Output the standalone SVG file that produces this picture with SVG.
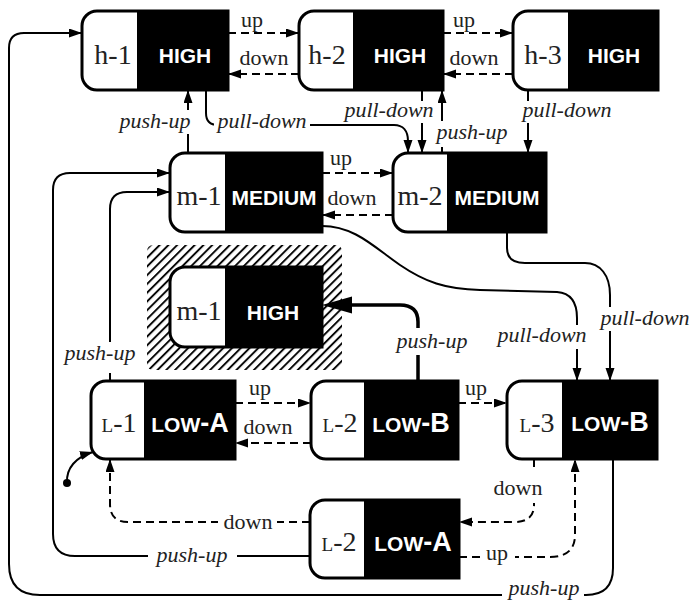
<svg xmlns="http://www.w3.org/2000/svg" width="690" height="601" viewBox="0 0 690 601">
  <defs>
    <style>
      .box { fill: #fff; stroke: #000; stroke-width: 3; }
      .blk { fill: #000; }
      .nm { font-family: "Liberation Serif", "Times New Roman", serif; font-size: 28px; fill: #222; text-anchor: middle; }
      .sc { font-size: 19px; }
      .tag { font-family: "Liberation Sans", Arial, sans-serif; font-weight: bold; font-size: 21px; fill: #fff; text-anchor: middle; }
      .big { font-size: 27px; }
      .c { fill: none; stroke: #000; stroke-width: 2; }
      .d { stroke-dasharray: 8 5; }
      .thick { stroke-width: 3.5; }
      .lb { font-family: "Liberation Serif", "Times New Roman", serif; font-size: 22px; fill: #222; text-anchor: middle; }
      .it { font-style: italic; }
      .bg { fill: #fff; }
    </style>
    <marker id="ah" markerUnits="userSpaceOnUse" markerWidth="14" markerHeight="10" refX="13" refY="4.5" orient="auto">
      <path d="M0,0 L13,4.5 L0,9 Z" fill="#000"/>
    </marker>
    <marker id="ahb" markerUnits="userSpaceOnUse" markerWidth="31" markerHeight="18" refX="20" refY="8.5" orient="auto">
      <path d="M0,0 L30,8.5 L0,17 Z" fill="#000"/>
    </marker>
    <pattern id="hatch" patternUnits="userSpaceOnUse" width="6.2" height="6.2" patternTransform="rotate(45)">
      <line x1="1" y1="0" x2="1" y2="6.2" stroke="#000" stroke-width="1.9"/>
    </pattern>
  </defs>

  <!-- hatched area behind the inactive m-1 node -->
  <rect x="147" y="245" width="195" height="125" rx="6" fill="url(#hatch)"/>

  <!-- connectors -->
  <g id="connectors">
    <!-- top row -->
    <path class="c d" d="M228,33 H299" marker-end="url(#ah)"/>
    <path class="c d" d="M299,74 H228" marker-end="url(#ah)"/>
    <path class="c d" d="M443,33 H513" marker-end="url(#ah)"/>
    <path class="c d" d="M513,74 H443" marker-end="url(#ah)"/>
    <!-- between top and middle rows -->
    <path class="c" d="M188,153 V90" marker-end="url(#ah)"/>
    <path class="c" d="M206,90 V113 C206,121 210,125 218,125 H394 C403,125 408,131 408,141 V153" marker-end="url(#ah)"/>
    <path class="c" d="M422,90 V153" marker-end="url(#ah)"/>
    <path class="c" d="M442,153 V90" marker-end="url(#ah)"/>
    <path class="c" d="M528,90 V153" marker-end="url(#ah)"/>
    <!-- middle row -->
    <path class="c d" d="M322,173 H393" marker-end="url(#ah)"/>
    <path class="c d" d="M393,215 H322" marker-end="url(#ah)"/>
    <path class="c" d="M322,226 C355,226 375,248 400,265 C425,282 445,289 480,290 L557,292 C570,293 577,302 577,318 V381" marker-end="url(#ah)"/>
    <path class="c" d="M507,232 V248 C507,258 513,263 525,263 H585 C600,263 610,275 610,295 V381" marker-end="url(#ah)"/>
    <!-- push-up into the hatched node -->
    <path class="c thick" d="M418,381 V322 C418,311 412,305 400,305 H332" marker-end="url(#ahb)"/>
    <!-- low row -->
    <path class="c d" d="M235,403 H311" marker-end="url(#ah)"/>
    <path class="c d" d="M311,443 H235" marker-end="url(#ah)"/>
    <path class="c d" d="M458,403 H507" marker-end="url(#ah)"/>
    <path class="c" d="M110,381 V209 Q110,192 127,192 H170" marker-end="url(#ah)"/>
    <!-- bottom node links -->
    <path class="c d" d="M534,459 V505 C534,516 528,522 514,522 H459" marker-end="url(#ah)"/>
    <path class="c d" d="M459,557 H550 C566,557 575,550 575,535 V459" marker-end="url(#ah)"/>
    <path class="c d" d="M310,522 H128 Q110,522 110,504 V459" marker-end="url(#ah)"/>
    <path class="c" d="M310,556 H75 Q53,556 53,534 V190 Q53,173 70,173 H170" marker-end="url(#ah)"/>
    <!-- outer loop back to h-1 -->
    <path class="c" d="M613,459 V568 Q613,595 586,595 H40 Q9,595 9,564 V48 Q9,33 24,33 H82" marker-end="url(#ah)"/>
    <!-- initial state -->
    <circle cx="67" cy="483" r="4" fill="#000"/>
    <path class="c" d="M67,483 C66,468 76,457 93,452" marker-end="url(#ah)"/>
  </g>

  <!-- connector labels -->
  <g id="labels">
    <rect class="bg" x="116" y="110" width="78" height="24"/>
    <rect class="bg" x="214" y="112" width="96" height="22"/>
    <rect class="bg" x="342" y="101" width="95" height="22"/>
    <rect class="bg" x="436" y="121" width="74" height="26"/>
    <rect class="bg" x="521" y="101" width="93" height="22"/>
    <rect class="bg" x="495" y="325" width="94" height="24"/>
    <rect class="bg" x="598" y="307" width="92" height="24"/>
    <rect class="bg" x="395" y="328" width="76" height="27"/>
    <rect class="bg" x="62" y="342" width="77" height="31"/>
    <rect class="bg" x="492" y="470" width="53" height="33"/>
    <rect class="bg" x="481" y="548" width="34" height="18"/>
    <rect class="bg" x="218" y="515" width="59" height="14"/>
    <rect class="bg" x="148" y="548" width="89" height="18"/>
    <rect class="bg" x="502" y="585" width="82" height="16"/>

    <text class="lb" x="252" y="27">up</text>
    <text class="lb" x="264" y="65">down</text>
    <text class="lb" x="464" y="27">up</text>
    <text class="lb" x="474" y="65">down</text>
    <text class="lb it" x="155" y="128">push-up</text>
    <text class="lb it" x="262" y="128">pull-down</text>
    <text class="lb it" x="389" y="117">pull-down</text>
    <text class="lb it" x="472" y="139">push-up</text>
    <text class="lb it" x="567" y="117">pull-down</text>
    <text class="lb" x="341" y="165">up</text>
    <text class="lb" x="352" y="205">down</text>
    <text class="lb it" x="542" y="342">pull-down</text>
    <text class="lb it" x="645" y="325">pull-down</text>
    <text class="lb it" x="432" y="348">push-up</text>
    <text class="lb it" x="100" y="360">push-up</text>
    <text class="lb" x="260" y="395">up</text>
    <text class="lb" x="268" y="434">down</text>
    <text class="lb" x="476" y="395">up</text>
    <text class="lb" x="518" y="495">down</text>
    <text class="lb" x="497" y="560">up</text>
    <text class="lb" x="248" y="529">down</text>
    <text class="lb it" x="192" y="562">push-up</text>
    <text class="lb it" x="544" y="595">push-up</text>
  </g>

  <!-- nodes -->
  <g id="h1">
    <path class="box" d="M97,11 H228 V90 H97 A15,15 0 0 1 82,75 V26 A15,15 0 0 1 97,11 Z"/>
    <rect class="blk" x="137" y="11" width="91" height="79"/>
    <text class="nm" x="113" y="64">h-1</text>
    <text class="tag" x="185" y="63">HIGH</text>
  </g>
  <g id="h2">
    <path class="box" d="M314,11 H443 V90 H314 A15,15 0 0 1 299,75 V26 A15,15 0 0 1 314,11 Z"/>
    <rect class="blk" x="353" y="11" width="90" height="79"/>
    <text class="nm" x="327" y="64">h-2</text>
    <text class="tag" x="400" y="63">HIGH</text>
  </g>
  <g id="h3">
    <path class="box" d="M528,11 H658 V90 H528 A15,15 0 0 1 513,75 V26 A15,15 0 0 1 528,11 Z"/>
    <rect class="blk" x="568" y="11" width="90" height="79"/>
    <text class="nm" x="543" y="64">h-3</text>
    <text class="tag" x="614" y="63">HIGH</text>
  </g>
  <g id="m1">
    <path class="box" d="M185,153 H322 V232 H185 A15,15 0 0 1 170,217 V168 A15,15 0 0 1 185,153 Z"/>
    <rect class="blk" x="225" y="153" width="97" height="79"/>
    <text class="nm" x="199" y="205">m-1</text>
    <text class="tag" x="274" y="205">MEDIUM</text>
  </g>
  <g id="m2">
    <path class="box" d="M408,153 H546 V232 H408 A15,15 0 0 1 393,217 V168 A15,15 0 0 1 408,153 Z"/>
    <rect class="blk" x="447" y="153" width="99" height="79"/>
    <text class="nm" x="420" y="205">m-2</text>
    <text class="tag" x="497" y="205">MEDIUM</text>
  </g>
  <g id="m1-high">
    <path class="box" d="M185,267 H322 V347 H185 A15,15 0 0 1 170,332 V282 A15,15 0 0 1 185,267 Z"/>
    <rect class="blk" x="225" y="267" width="97" height="80"/>
    <text class="nm" x="199" y="320">m-1</text>
    <text class="tag" x="273" y="320">HIGH</text>
  </g>
  <g id="L1">
    <path class="box" d="M106,381 H235 V459 H106 A15,15 0 0 1 91,444 V396 A15,15 0 0 1 106,381 Z"/>
    <rect class="blk" x="144" y="381" width="91" height="78"/>
    <text class="nm" x="119" y="432"><tspan class="sc">L</tspan>-1</text>
    <text class="tag" x="190" y="432">LOW<tspan class="big">-A</tspan></text>
  </g>
  <g id="L2-low-b">
    <path class="box" d="M326,381 H458 V459 H326 A15,15 0 0 1 311,444 V396 A15,15 0 0 1 326,381 Z"/>
    <rect class="blk" x="364" y="381" width="94" height="78"/>
    <text class="nm" x="340" y="432"><tspan class="sc">L</tspan>-2</text>
    <text class="tag" x="411" y="432">LOW<tspan class="big">-B</tspan></text>
  </g>
  <g id="L3">
    <path class="box" d="M522,381 H657 V459 H522 A15,15 0 0 1 507,444 V396 A15,15 0 0 1 522,381 Z"/>
    <rect class="blk" x="562" y="381" width="95" height="78"/>
    <text class="nm" x="537" y="432"><tspan class="sc">L</tspan>-3</text>
    <text class="tag" x="610" y="431">LOW<tspan class="big">-B</tspan></text>
  </g>
  <g id="L2-low-a">
    <path class="box" d="M325,500 H459 V578 H325 A15,15 0 0 1 310,563 V515 A15,15 0 0 1 325,500 Z"/>
    <rect class="blk" x="364" y="500" width="95" height="78"/>
    <text class="nm" x="339" y="551"><tspan class="sc">L</tspan>-2</text>
    <text class="tag" x="413" y="551">LOW<tspan class="big">-A</tspan></text>
  </g>
</svg>
